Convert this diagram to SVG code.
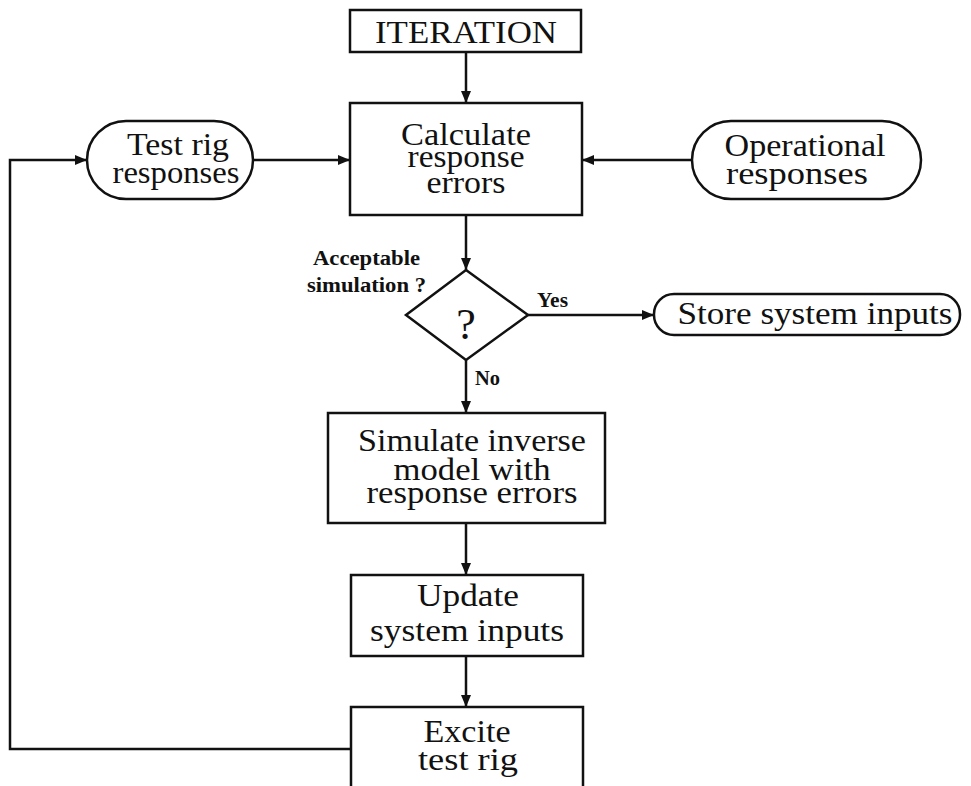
<svg xmlns="http://www.w3.org/2000/svg" width="971" height="786" viewBox="0 0 971 786">
  <style>
    .box { fill: #fff; stroke: #111; stroke-width: 2.5; }
    .wire { fill: none; stroke: #111; stroke-width: 2.5; }
    .t { font-family: "Liberation Serif", "DejaVu Serif", serif; font-size: 31px; fill: #111; text-anchor: middle; }
    .lbl { font-family: "Liberation Serif", "DejaVu Serif", serif; font-size: 20px; font-weight: bold; fill: #111; }
    .q { font-family: "Liberation Serif", "DejaVu Serif", serif; font-size: 44px; fill: #111; text-anchor: middle; }
  </style>
  <defs>
    <marker id="arrow" viewBox="0 0 12 10" refX="12" refY="5" markerWidth="12" markerHeight="10" markerUnits="userSpaceOnUse" orient="auto">
      <path d="M0,0 L12,5 L0,10 z" fill="#111"/>
    </marker>
  </defs>
  <rect width="971" height="786" fill="#fff"/>

  <g id="connectors">
    <line class="wire" x1="466" y1="52" x2="466" y2="103" marker-end="url(#arrow)"/>
    <line class="wire" x1="253" y1="160" x2="350" y2="160" marker-end="url(#arrow)"/>
    <line class="wire" x1="692" y1="160" x2="582" y2="160" marker-end="url(#arrow)"/>
    <line class="wire" x1="466" y1="215" x2="466" y2="270" marker-end="url(#arrow)"/>
    <line class="wire" x1="528" y1="315" x2="654" y2="315" marker-end="url(#arrow)"/>
    <line class="wire" x1="466" y1="360" x2="466" y2="413" marker-end="url(#arrow)"/>
    <line class="wire" x1="466" y1="523" x2="466" y2="575" marker-end="url(#arrow)"/>
    <line class="wire" x1="466" y1="656" x2="466" y2="707" marker-end="url(#arrow)"/>
    <polyline class="wire" points="351,749 10,749 10,160 87,160" marker-end="url(#arrow)"/>
    <text class="lbl" x="537" y="307" textLength="31" lengthAdjust="spacingAndGlyphs">Yes</text>
    <text class="lbl" x="475" y="385" textLength="25" lengthAdjust="spacingAndGlyphs">No</text>
  </g>

  <g id="iteration">
    <rect class="box" x="350" y="10" width="231" height="42"/>
    <text class="t" x="466" y="43" textLength="182" lengthAdjust="spacingAndGlyphs">ITERATION</text>
  </g>

  <g id="calculate">
    <rect class="box" x="350" y="103" width="232" height="112"/>
    <text class="t" x="466" y="145" textLength="130" lengthAdjust="spacingAndGlyphs">Calculate</text>
    <text class="t" x="466" y="167" textLength="117" lengthAdjust="spacingAndGlyphs">response</text>
    <text class="t" x="466" y="193" textLength="79" lengthAdjust="spacingAndGlyphs">errors</text>
  </g>

  <g id="test-rig-responses">
    <rect class="box" x="87" y="121" width="166" height="78" rx="39" ry="39"/>
    <text class="t" x="178" y="155" textLength="102" lengthAdjust="spacingAndGlyphs">Test rig</text>
    <text class="t" x="176" y="183" textLength="127" lengthAdjust="spacingAndGlyphs">responses</text>
  </g>

  <g id="operational-responses">
    <rect class="box" x="692" y="121" width="229" height="78" rx="39" ry="39"/>
    <text class="t" x="805" y="156" textLength="161" lengthAdjust="spacingAndGlyphs">Operational</text>
    <text class="t" x="797" y="184" textLength="142" lengthAdjust="spacingAndGlyphs">responses</text>
  </g>

  <g id="decision">
    <polygon class="box" points="466,270 528,315 466,360 406,315"/>
    <text class="q" x="466" y="339">?</text>
    <text class="lbl" x="313" y="265" textLength="107" lengthAdjust="spacingAndGlyphs">Acceptable</text>
    <text class="lbl" x="307" y="292" textLength="119" lengthAdjust="spacingAndGlyphs">simulation ?</text>
  </g>

  <g id="store-system-inputs">
    <rect class="box" x="654" y="294" width="306" height="41" rx="20" ry="20"/>
    <text class="t" x="815" y="324" textLength="275" lengthAdjust="spacingAndGlyphs">Store system inputs</text>
  </g>

  <g id="simulate">
    <rect class="box" x="328" y="413" width="277" height="110"/>
    <text class="t" x="472" y="451" textLength="228" lengthAdjust="spacingAndGlyphs">Simulate inverse</text>
    <text class="t" x="472" y="480" textLength="157" lengthAdjust="spacingAndGlyphs">model with</text>
    <text class="t" x="472" y="503" textLength="211" lengthAdjust="spacingAndGlyphs">response errors</text>
  </g>

  <g id="update">
    <rect class="box" x="351" y="575" width="232" height="81"/>
    <text class="t" x="468" y="606" textLength="102" lengthAdjust="spacingAndGlyphs">Update</text>
    <text class="t" x="467" y="641" textLength="194" lengthAdjust="spacingAndGlyphs">system inputs</text>
  </g>

  <g id="excite">
    <rect class="box" x="351" y="707" width="232" height="90"/>
    <text class="t" x="467" y="742" textLength="87" lengthAdjust="spacingAndGlyphs">Excite</text>
    <text class="t" x="468" y="770" textLength="100" lengthAdjust="spacingAndGlyphs">test rig</text>
  </g>
</svg>
